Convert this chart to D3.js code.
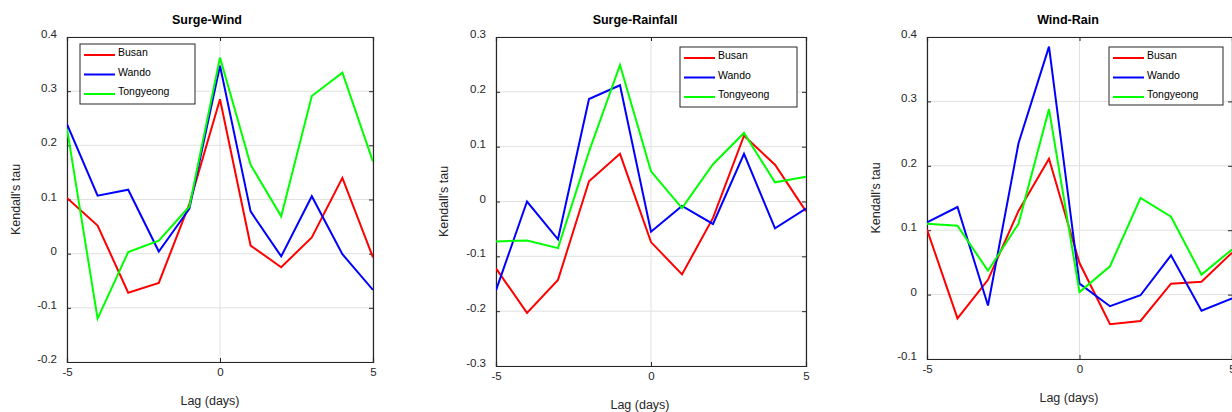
<!DOCTYPE html>
<html>
<head>
<meta charset="utf-8">
<script src="https://cdn.jsdelivr.net/npm/d3@7"></script>
<style>
  body { margin: 0; background: #fff; }
  svg { display: block; font-family: "Liberation Sans", Arial, Helvetica, sans-serif; }
</style>
</head>
<body>
<svg id="chart" width="1232" height="412"></svg>
<script>
// data
const lags = [-5, -4, -3, -2, -1, 0, 1, 2, 3, 4, 5];
const stations = ['Busan', 'Wando', 'Tongyeong'];
const stationColors = ['#ff0000', '#0000ff', '#00ff00'];

const surgeWindBusan = [0.103, 0.052, -0.072, -0.054, 0.092, 0.285, 0.015, -0.025, 0.030, 0.140, -0.007];
const surgeWindWando = [0.239, 0.107, 0.118, 0.004, 0.083, 0.347, 0.078, -0.005, 0.106, -0.001, -0.067];
const surgeWindTongyeong = [0.231, -0.120, 0.003, 0.024, 0.087, 0.362, 0.164, 0.069, 0.291, 0.334, 0.170];

const surgeRainBusan = [-0.122, -0.203, -0.143, 0.037, 0.087, -0.074, -0.133, -0.030, 0.120, 0.067, -0.018];
const surgeRainWando = [-0.162, 0.000, -0.069, 0.187, 0.212, -0.055, -0.008, -0.041, 0.087, -0.049, -0.013];
const surgeRainTongyeong = [-0.073, -0.071, -0.085, 0.091, 0.249, 0.055, -0.012, 0.068, 0.125, 0.035, 0.045];

const windRainBusan = [0.101, -0.037, 0.023, 0.130, 0.211, 0.049, -0.046, -0.041, 0.017, 0.020, 0.065];
const windRainWando = [0.112, 0.136, -0.017, 0.235, 0.385, 0.017, -0.018, -0.001, 0.061, -0.025, -0.006];
const windRainTongyeong = [0.110, 0.107, 0.037, 0.110, 0.288, 0.004, 0.044, 0.150, 0.121, 0.031, 0.070];

const xTicks = [-5, 0, 5];
const yTicks1 = [-0.2, -0.1, 0, 0.1, 0.2, 0.3, 0.4];
const yTicks2 = [-0.3, -0.2, -0.1, 0, 0.1, 0.2, 0.3];
const yTicks3 = [-0.1, 0, 0.1, 0.2, 0.3, 0.4];

// layout of each panel (pixels)
const panels = [
  { title: 'Surge-Wind', series: [surgeWindBusan, surgeWindWando, surgeWindTongyeong],
    yDomain: [-0.2, 0.4], yTicks: yTicks1,
    left: 67, right: 373, top: 37, bottom: 362,
    titleX: 207, xLabelX: 210, yLabelX: 16,
    legend: { x: 80, y: 44, w: 115, h: 60 } },
  { title: 'Surge-Rainfall', series: [surgeRainBusan, surgeRainWando, surgeRainTongyeong],
    yDomain: [-0.3, 0.3], yTicks: yTicks2,
    left: 496, right: 806, top: 37, bottom: 366,
    titleX: 635, xLabelX: 640, yLabelX: 444,
    legend: { x: 680, y: 47, w: 117, h: 60 } },
  { title: 'Wind-Rain', series: [windRainBusan, windRainWando, windRainTongyeong],
    yDomain: [-0.1, 0.4], yTicks: yTicks3,
    left: 927, right: 1232, top: 37, bottom: 359,
    titleX: 1068, xLabelX: 1069, yLabelX: 876,
    legend: { x: 1109, y: 47, w: 114, h: 58 } }
];

const svg = d3.select('#chart');
const axisColor = '#262626';
const gridColor = '#e0e0e0';
// MATLAB-style labels use a plain hyphen for minus
const fmtY = d => d === 0 ? '0' : d3.format('.1f')(d).replace('\u2212', '-');
const fmtX = d => String(d);

panels.forEach((p, pi) => {
  const x = d3.scaleLinear().domain([-5, 5]).range([p.left, p.right]);
  const y = d3.scaleLinear().domain(p.yDomain).range([p.bottom, p.top]);
  const g = svg.append('g');

  // clip lines to the plot box
  g.append('clipPath').attr('id', 'clip' + pi)
    .append('rect')
    .attr('x', p.left).attr('y', p.top)
    .attr('width', p.right - p.left).attr('height', p.bottom - p.top);

  // grid
  g.append('g').selectAll('line').data(p.yTicks).join('line')
    .attr('x1', p.left).attr('x2', p.right)
    .attr('y1', d => y(d)).attr('y2', d => y(d))
    .attr('stroke', gridColor).attr('stroke-width', 1);
  g.append('g').selectAll('line').data(xTicks).join('line')
    .attr('y1', p.top).attr('y2', p.bottom)
    .attr('x1', d => x(d)).attr('x2', d => x(d))
    .attr('stroke', gridColor).attr('stroke-width', 1);

  // axes, ticks pointing inward
  const yAxis = d3.axisLeft(y).tickValues(p.yTicks).tickSize(-4).tickPadding(10).tickFormat(fmtY);
  const gy = g.append('g').attr('transform', `translate(${p.left},0)`).call(yAxis);
  gy.selectAll('text').attr('dy', '0.05em');

  const yAxisR = d3.axisRight(y).tickValues(p.yTicks).tickSize(-4).tickFormat('');
  g.append('g').attr('transform', `translate(${p.right},0)`).call(yAxisR);

  const xAxis = d3.axisBottom(x).tickValues(xTicks).tickSize(-4).tickPadding(6).tickFormat(fmtX);
  g.append('g').attr('transform', `translate(0,${p.bottom})`).call(xAxis);

  const xAxisT = d3.axisTop(x).tickValues(xTicks).tickSize(-4).tickFormat('');
  g.append('g').attr('transform', `translate(0,${p.top})`).call(xAxisT);

  g.selectAll('.domain').attr('stroke', axisColor).attr('stroke-width', 1.2);
  g.selectAll('.tick line').attr('stroke', axisColor);
  g.selectAll('.tick text').attr('fill', axisColor).style('font-size', '11.5px');

  // series lines
  const line = d3.line().x((d, i) => x(lags[i])).y(d => y(d));
  g.append('g').attr('clip-path', `url(#clip${pi})`)
    .selectAll('path').data(p.series).join('path')
    .attr('d', line)
    .attr('fill', 'none')
    .attr('stroke', (d, i) => stationColors[i])
    .attr('stroke-width', 2);

  // title
  g.append('text')
    .attr('x', p.titleX).attr('y', 24)
    .attr('text-anchor', 'middle')
    .style('font-size', '12.5px').style('font-weight', 'bold')
    .attr('fill', '#000')
    .text(p.title);

  // x label
  g.append('text')
    .attr('x', p.xLabelX).attr('y', p.bottom + 43)
    .attr('text-anchor', 'middle')
    .style('font-size', '12.5px')
    .attr('fill', axisColor)
    .text('Lag (days)');

  // y label
  g.append('text')
    .attr('transform', `translate(${p.yLabelX},${(p.top + p.bottom) / 2}) rotate(-90)`)
    .attr('text-anchor', 'middle')
    .attr('dy', '0.35em')
    .style('font-size', '12.5px')
    .attr('fill', axisColor)
    .text("Kendall's tau");

  // legend
  const L = p.legend;
  const lg = g.append('g');
  lg.append('rect')
    .attr('x', L.x).attr('y', L.y).attr('width', L.w).attr('height', L.h)
    .attr('fill', '#fff').attr('stroke', axisColor).attr('stroke-width', 1);
  const items = lg.selectAll('g').data(stations).join('g')
    .attr('transform', (d, i) => `translate(${L.x},${L.y + 10 + i * 19.5})`);
  items.append('line')
    .attr('x1', 4).attr('x2', 35).attr('y1', 1).attr('y2', 1)
    .attr('stroke', (d, i) => stationColors[i]).attr('stroke-width', 2);
  items.append('text')
    .attr('x', 38).attr('y', 0)
    .attr('dy', '0.2em')
    .style('font-size', '10.5px')
    .attr('fill', '#000')
    .text(d => d);
});
</script>
</body>
</html>
